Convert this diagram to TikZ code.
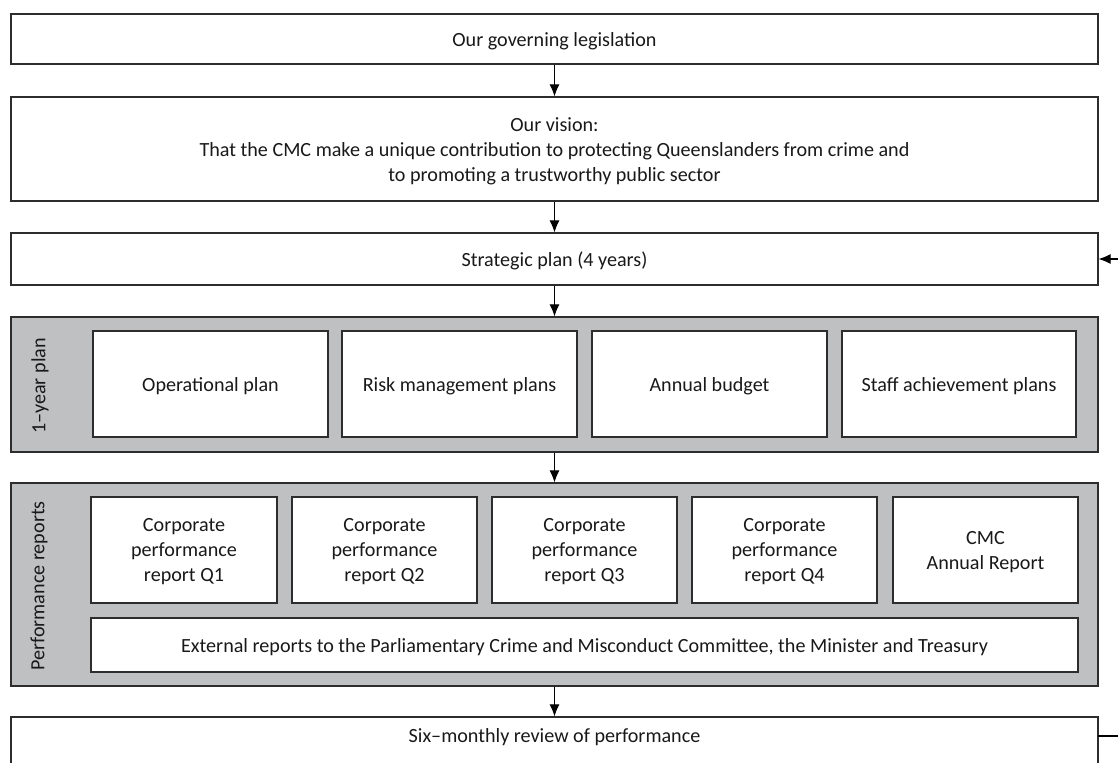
\documentclass[tikz,border=0pt]{standalone}
\usepackage{fontspec}
\setmainfont{Carlito}
\usetikzlibrary{fit,arrows.meta}
\definecolor{panelgray}{RGB}{191,192,194}
\definecolor{edge}{RGB}{45,45,45}
\begin{document}
\begin{tikzpicture}[x=0.75pt,y=-0.75pt,
  txt/.style={font=\fontsize{15.1}{18.8}\selectfont, align=center, text=black!90, inner sep=0pt, yshift=-1.5pt},
  box/.style={draw=edge, line width=0.9pt, fill=white, inner sep=0pt},
  panel/.style={draw=edge, line width=0.9pt, fill=panelgray, inner sep=0pt},
  flow/.style={draw=black, line width=0.8pt, -{Latex[length=9pt,width=7.5pt]}},
  sidelabel/.style={txt, rotate=90, yshift=0pt}]
\clip (0,0) rectangle (1118,763);
\fill[white] (0,0) rectangle (1118,763);

% main sequence
\node[box, fit={(11,14) (1098,64)}] (gov) {};
\node[txt] (govtxt) at (gov.center) {Our governing legislation};
\node[box, fit={(11,97) (1098,201)}] (vision) {};
\node[txt] (visiontxt) at (vision.center) {Our vision:\\That the CMC make a unique contribution to protecting Queenslanders from crime and\\to promoting a trustworthy public sector};
\node[box, fit={(11,233) (1098,285)}] (strat) {};
\node[txt] (strattxt) at (strat.center) {Strategic plan (4 years)};

% one-year planning panel
\node[panel, fit={(11,317) (1098,452)}] (year) {};
\node[sidelabel] (yearlbl) at (40,384) {1–year plan};
\node[box, fit={(93,331) (328,437)}] (op) {};
\node[txt] (optxt) at (op.center) {Operational plan};
\node[box, fit={(342,331) (577,437)}] (risk) {};
\node[txt] (risktxt) at (risk.center) {Risk management plans};
\node[box, fit={(592,331) (827,437)}] (budget) {};
\node[txt] (budgettxt) at (budget.center) {Annual budget};
\node[box, fit={(842,331) (1076,437)}] (staff) {};
\node[txt] (stafftxt) at (staff.center) {Staff achievement plans};

% reporting panel
\node[panel, fit={(11,483) (1098,686)}] (perf) {};
\node[sidelabel] (perflbl) at (39,584) {Performance reports};
\node[box, fit={(91,497) (277,603)}] (q1) {};
\node[txt] (q1txt) at (q1.center) {Corporate\\performance\\report Q1};
\node[box, fit={(292,497) (477,603)}] (q2) {};
\node[txt] (q2txt) at (q2.center) {Corporate\\performance\\report Q2};
\node[box, fit={(492,497) (677,603)}] (q3) {};
\node[txt] (q3txt) at (q3.center) {Corporate\\performance\\report Q3};
\node[box, fit={(692,497) (877,603)}] (q4) {};
\node[txt] (q4txt) at (q4.center) {Corporate\\performance\\report Q4};
\node[box, fit={(893,497) (1078,603)}] (annual) {};
\node[txt] (annualtxt) at (annual.center) {CMC\\Annual Report};
\node[box, fit={(91,618) (1078,672)}] (ext) {};
\node[txt] (exttxt) at (ext.center) {External reports to the Parliamentary Crime and Misconduct Committee, the Minister and Treasury};

% review box
\node[box, fit={(11,717) (1098,775)}] (six) {};
\node[txt] (sixtxt) at (554.5,735) {Six–monthly review of performance};

% downward flow
\draw[flow] (gov.south) -- (vision.north);
\draw[flow] (vision.south) -- (strat.north);
\draw[flow] (strat.south) -- (year.north);
\draw[flow] (year.south) -- (perf.north);
\draw[flow] (perf.south) -- (six.north);

% feedback loop from the review back to the strategic plan
\coordinate (loopout) at (1098,736);
\coordinate (loopright) at (1135,736);
\draw[flow] (loopout) -- (loopright) |- (strat.east);
\end{tikzpicture}
\end{document}
